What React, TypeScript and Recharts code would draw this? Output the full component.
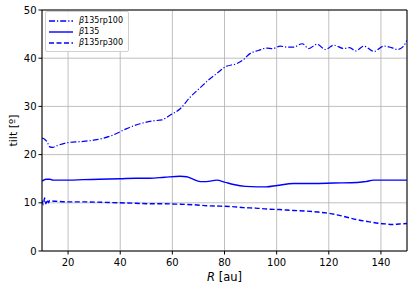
import { LineChart, Line, XAxis, YAxis, CartesianGrid } from "recharts";

// radius [au] and tilt [deg]
const rp100R = [10, 11, 12, 13, 14, 16, 20, 25, 31, 37, 42.5, 47.6, 52.6, 56, 59.2, 63, 66.8, 70.7, 73.7, 77, 80.3, 84.8, 87, 89.9, 93, 96.3, 98.5, 101.4, 104, 106.5, 109.8, 112.3, 115.5, 118.7, 121.9, 125.8, 128, 130.3, 133.5, 137.3, 141.2, 144, 146.3, 148.5, 150];
const rp100Tilt = [23.4, 23.2, 22.6, 21.6, 21.5, 21.9, 22.5, 22.7, 23.1, 24, 25.4, 26.4, 27, 27.2, 28.2, 29.5, 31.9, 33.9, 35.4, 36.8, 38.2, 38.9, 39.6, 41, 41.6, 42.1, 42, 42.5, 42.3, 42.3, 43, 42, 42.9, 41.8, 42.7, 42, 42.2, 41.5, 42.5, 41.4, 42.5, 42.2, 41.8, 42.4, 43.7];

const b135R = [10, 11.5, 13, 14.2, 18, 25.8, 32, 39.9, 46, 51.4, 57, 63, 65.5, 67.5, 70.7, 73, 77.1, 80, 83.5, 88, 92.5, 96, 100.2, 106.5, 114, 121.9, 130.9, 134, 137.3, 144, 150];
const b135Tilt = [14.5, 14.9, 14.9, 14.7, 14.7, 14.8, 14.9, 15, 15.1, 15.1, 15.3, 15.5, 15.4, 15, 14.4, 14.4, 14.7, 14.3, 13.8, 13.4, 13.3, 13.3, 13.6, 14, 14, 14.1, 14.2, 14.4, 14.7, 14.7, 14.7];

const rp300R = [10, 10.5, 11, 11.5, 12, 12.5, 13, 13.6, 16, 20, 25.8, 33, 39.9, 46, 51.4, 57, 63, 68, 73.2, 78.4, 83, 87.3, 92, 96.3, 101, 106.5, 111, 115.5, 119, 123.2, 127, 130.9, 135, 139.9, 142, 144.4, 147, 150];
const rp300Tilt = [10.5, 9.6, 11, 9.8, 10.6, 10, 10.5, 10.4, 10.3, 10.2, 10.2, 10.1, 10, 9.9, 9.8, 9.8, 9.7, 9.6, 9.4, 9.3, 9.2, 9, 8.9, 8.7, 8.6, 8.4, 8.3, 8.1, 7.9, 7.5, 7, 6.5, 6.1, 5.7, 5.6, 5.5, 5.6, 5.7];

const xTicks = [20, 40, 60, 80, 100, 120, 140];
const yTicks = [0, 10, 20, 30, 40, 50];

const toPoints = (rs: number[], ts: number[]) => rs.map((r, i) => ({ r, tilt: ts[i] }));

const SERIES = [
  { name: "135rp100", data: toPoints(rp100R, rp100Tilt), dash: "6 2 1.2 2", width: 1.2 },
  { name: "135", data: toPoints(b135R, b135Tilt), dash: undefined, width: 1.4 },
  { name: "135rp300", data: toPoints(rp300R, rp300Tilt), dash: "5 2.5", width: 1.4 },
];

const BLUE = "#0000ff";
const FONT = "'DejaVu Sans', sans-serif";

const LegendBox = () => (
  <div
    style={{
      position: "absolute",
      left: 45,
      top: 11,
      background: "rgba(255,255,255,0.85)",
      border: "1px solid #d0d0d0",
      borderRadius: 2,
      padding: "3px 5px 3px 3px",
      fontFamily: FONT,
      fontSize: 8,
      color: "#000",
    }}
  >
    {SERIES.map((s) => (
      <div key={s.name} style={{ display: "flex", alignItems: "center", height: 11 }}>
        <svg width={24} height={6} style={{ marginRight: 6 }}>
          <line x1={0} y1={3} x2={24} y2={3} stroke={BLUE} strokeWidth={1.4} strokeDasharray={s.dash} />
        </svg>
        <span>
          <span style={{ fontStyle: "italic" }}>β</span>
          {s.name}
        </span>
      </div>
    ))}
  </div>
);

const XLabel = ({ viewBox }: any) => {
  const cx = viewBox.x + viewBox.width / 2;
  return (
    <text x={cx} y={viewBox.y + 30} textAnchor="middle" fontFamily={FONT} fontSize={11.5} fill="#000">
      <tspan fontStyle="italic">R</tspan>
      <tspan> [au]</tspan>
    </text>
  );
};

const YLabel = ({ viewBox }: any) => {
  const cy = viewBox.y + viewBox.height / 2;
  const x = 17;
  return (
    <text x={x} y={cy} transform={`rotate(-90 ${x} ${cy})`} textAnchor="middle" fontFamily={FONT} fontSize={11} fill="#000">
      tilt [º]
    </text>
  );
};

export default function App() {
  return (
    <div style={{ position: "absolute", left: 0, top: 0, width: 415, height: 284 }}>
      <LineChart width={415} height={284} margin={{ top: 10, right: 8, left: 0, bottom: 0 }}>
        <CartesianGrid stroke="#b0b0b0" strokeWidth={0.8} />
        <XAxis
          dataKey="r"
          type="number"
          domain={[10, 150]}
          ticks={xTicks}
          allowDataOverflow
          height={33}
          tick={{ fontSize: 10, fill: "#000", fontFamily: FONT, dy: 2 }}
          tickSize={3.5}
          tickLine={{ stroke: "#000" }}
          axisLine={{ stroke: "#000" }}
          label={<XLabel />}
        />
        <YAxis
          dataKey="tilt"
          type="number"
          domain={[0, 50]}
          ticks={yTicks}
          width={42}
          tick={{ fontSize: 10, fill: "#000", fontFamily: FONT }}
          tickSize={3.5}
          tickLine={{ stroke: "#000" }}
          axisLine={{ stroke: "#000" }}
          label={<YLabel />}
        />
        {SERIES.map((s) => (
          <Line
            key={s.name}
            data={s.data}
            dataKey="tilt"
            type="monotone"
            stroke={BLUE}
            strokeWidth={s.width}
            strokeDasharray={s.dash}
            dot={false}
            isAnimationActive={false}
          />
        ))}
        {/* top and right frame */}
        <line x1={42} y1={10} x2={407} y2={10} stroke="#000" strokeWidth={1} />
        <line x1={407} y1={10} x2={407} y2={251} stroke="#000" strokeWidth={1} />
      </LineChart>
      <LegendBox />
    </div>
  );
}
